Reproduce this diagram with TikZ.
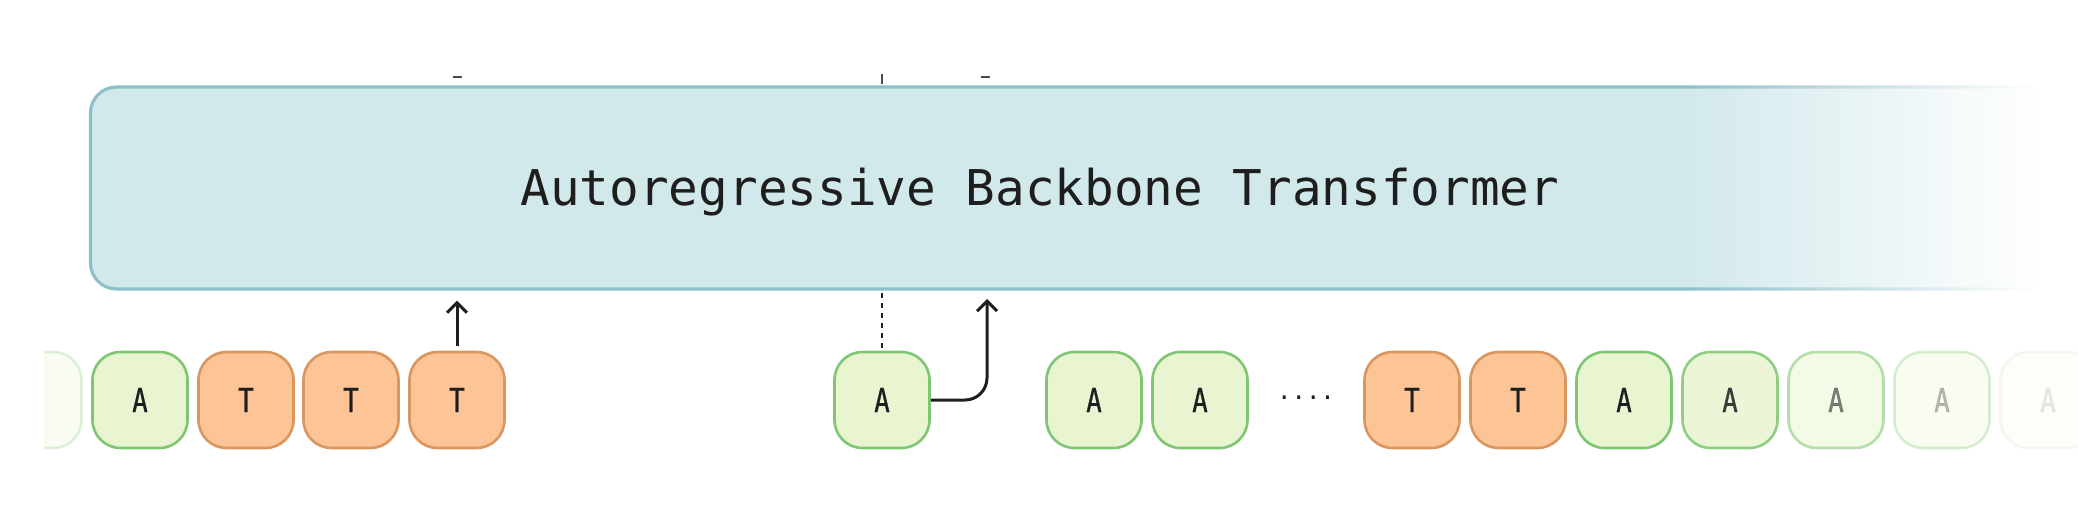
\documentclass[tikz,border=0pt]{standalone}
\usepackage{fontspec}
\newfontfamily\monofont{DejaVu Sans Mono}
\newfontfamily\tokfont[FakeStretch=0.78, FakeBold=0.8]{DejaVu Sans Mono}
\usetikzlibrary{arrows.meta,fadings,calc}
\definecolor{boxfill}{HTML}{D2E9EC}
\definecolor{boxline}{HTML}{8DC0CA}
\definecolor{gfill}{HTML}{E9F5D0}
\definecolor{gline}{HTML}{7EC673}
\definecolor{ofill}{HTML}{FDC595}
\definecolor{oline}{HTML}{D9965E}
\definecolor{ink}{HTML}{1E1E1E}
\tikzfading[name=fadetoright, left color=transparent!100, right color=transparent!0]
\tikzset{
  bigbox/.style={draw=boxline, fill=boxfill, line width=3.2pt, rounded corners=26pt,
    minimum width=1969pt, minimum height=202pt, inner sep=0pt},
  title/.style={text=ink, font=\monofont\fontsize{49.3}{58}\selectfont, inner sep=0pt},
  tok/.style={line width=2.6pt, rounded corners=28pt, minimum width=95pt,
    minimum height=96pt, inner sep=0pt, text=ink, font=\tokfont\fontsize{33}{38}\selectfont},
  tokA/.style={tok, draw=gline, fill=gfill},
  tokT/.style={tok, draw=oline, fill=ofill},
  arr/.style={draw=ink, line width=3pt, -{Straight Barb[length=10pt,width=20pt,line width=3pt]}},
  dashline/.style={draw=ink, line width=2.8pt, dash pattern=on 5pt off 5pt},
  tick/.style={draw=ink!80, line width=2.5pt}
}
\begin{document}
\begin{tikzpicture}[x=1pt,y=-1pt]
\useasboundingbox (0,0) rectangle (2078,524);
% backbone
\node[bigbox] (bb) at (1075,188) {};
\node[title] (tt) at (1040,192) {Autoregressive Backbone Transformer};
% fade right side of the box
\fill[white, path fading=fadetoright] (1680,70) rectangle (2035,310);
\fill[white] (2034,70) rectangle (2078,310);
% top remnants
\draw[tick] (453,77) -- (462,77);
\draw[tick] (882,74) -- (882,84);
\draw[tick] (981,77) -- (990,77);
% tokens (left group)
\begin{scope}
\clip (44,330) rectangle (200,470);
\node[tokA, opacity=0.25] (t0) at (34,400) {A};
\end{scope}
\node[tokA] (t1) at (140,400) {A};
\node[tokT] (t2) at (246,400) {T};
\node[tokT] (t3) at (351,400) {T};
\node[tokT] (t4) at (457,400) {T};
% middle
\node[tokA] (m) at (882,400) {A};
\node[tokA] (a1) at (1094,400) {A};
\node[tokA] (a2) at (1200,400) {A};
\node[text=ink, font=\monofont\fontsize{24}{28}\selectfont, inner sep=0pt] (dots) at (1306,398) {....};
\node[tokT] (t5) at (1412,400) {T};
\node[tokT] (t6) at (1518,400) {T};
\node[tokA] (a3) at (1624,400) {A};
\node[tokA, opacity=0.85] (a4) at (1730,400) {A};
\node[tokA, opacity=0.55] (a5) at (1836,400) {A};
\node[tokA, opacity=0.3] (a6) at (1942,400) {A};
\node[tokA, opacity=0.1] (a7) at (2048,400) {A};
% connectors
\draw[arr, shorten <=5pt, shorten >=10pt] (t4.north) -- (t4.north |- bb.south);
\draw[dashline, shorten <=3pt, shorten >=1pt] (m.north) -- (m.north |- bb.south);
\coordinate (cup) at (987,299);
\draw[arr, rounded corners=22pt] (m.east) -| (cup);
\end{tikzpicture}
\end{document}
